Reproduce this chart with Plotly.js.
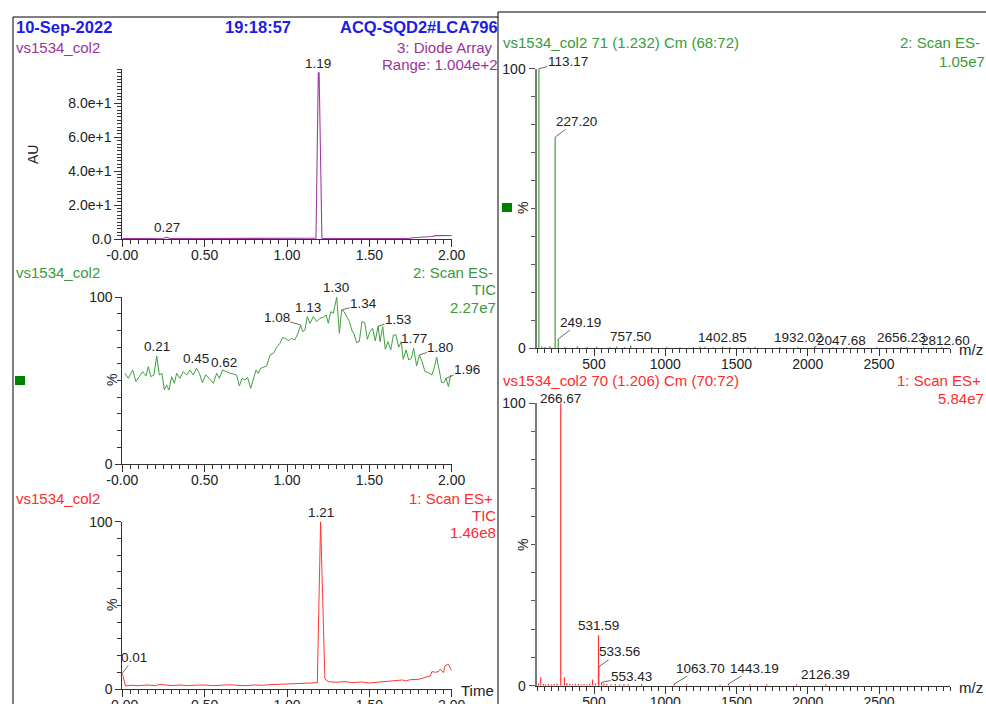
<!DOCTYPE html>
<html><head><meta charset="utf-8">
<script src="https://cdn.plot.ly/plotly-3.0.1.min.js"></script>
<style>html,body{margin:0;padding:0;background:#fff}#c{width:986px;height:704px}</style>
</head><body><div id="c"></div>
<script>
// ---------- DATA ----------
// Diode array chromatogram (AU)
const dT = [0,0.1,0.2,0.25,0.27,0.29,0.4,0.6,0.8,1.0,1.17,1.176,1.19,1.195,1.212,1.22,1.4,1.6,1.74,1.76,1.8,1.82,1.88,1.9,1.95,2.0];
const dV = [0.2,0.2,0.2,0.4,1.0,0.3,0.2,0.2,0.2,0.2,0.2,0.5,98,98,0.5,0.2,0.2,0.2,0.3,0.7,0.9,1.3,1.5,2.0,2.1,2.1];
const dLabels = [0.27, 1.19];

// Scan ES- TIC (%)
const gT = [0.016,0.036,0.063,0.083,0.103,0.123,0.144,0.158,0.174,0.192,
0.209,0.225,0.241,0.255,0.269,0.283,0.300,0.316,0.330,0.350,
0.370,0.391,0.411,0.431,0.451,0.468,0.486,0.506,0.528,0.553,
0.573,0.589,0.609,0.630,0.654,0.674,0.694,0.711,0.727,0.745,
0.761,0.779,0.796,0.812,0.826,0.840,0.856,0.877,0.897,0.917,
0.937,0.957,0.974,0.994,1.010,1.026,1.047,1.067,1.083,1.095,
1.109,1.123,1.140,1.160,1.180,1.200,1.221,1.237,1.251,1.265,
1.281,1.302,1.318,1.332,1.346,1.362,1.379,1.393,1.407,1.423,
1.439,1.455,1.472,1.488,1.504,1.520,1.536,1.553,1.565,1.581,
1.597,1.613,1.630,1.646,1.662,1.678,1.694,1.706,1.723,1.739,
1.755,1.769,1.787,1.804,1.820,1.838,1.858,1.879,1.893,1.909,
1.925,1.939,1.953,1.966,1.980,1.994];
const gV = [54.4,51.4,56.4,49.4,52.4,55.4,52.8,58.4,52.4,53.4,
64.8,53.4,54.4,44.4,47.4,44.4,52.4,48.4,54.4,51.4,
55.4,53.4,56.4,53.4,57.4,54.4,48.8,53.4,51.4,48.4,
54.4,51.4,56.4,55.4,54.4,54.0,53.4,46.8,51.4,50.4,
52.0,45.4,51.4,56.4,54.4,57.4,58.0,58.8,65.4,66.4,
70.0,72.4,75.8,75.2,73.8,75.4,74.4,78.4,83.4,79.4,
80.4,88.4,84.4,88.4,85.4,87.4,88.0,89.4,84.4,91.4,
90.4,100,78.4,92.4,91.4,88.8,85.4,80.4,78.0,72.8,
73.4,85.4,84.8,74.8,79.4,81.4,73.8,82.6,73.4,82.4,
68.8,73.4,68.4,77.4,77.4,70.0,73.4,62.8,68.4,62.4,
63.4,69.4,58.8,65.4,61.4,55.4,54.8,53.4,57.4,64.0,
55.4,48.8,48.8,51.4,46.4,53.4];
const gLabels = [0.21,0.45,0.62,1.08,1.13,1.30,1.34,1.53,1.77,1.80,1.96];

// Scan ES+ TIC (%)
const rT = [0,0.02,0.05,0.1,0.15,0.2,0.23,0.27,0.3,0.35,
0.4,0.45,0.5,0.55,0.6,0.65,0.7,0.75,0.8,0.85,
0.9,0.95,1.0,1.05,1.1,1.15,1.184,1.204,1.23,
1.25,1.3,1.35,1.4,1.45,1.5,1.55,1.6,1.65,1.7,
1.72,1.75,1.8,1.85,1.87,1.88,1.9,1.92,1.93,1.95,
1.96,1.98,2.0];
const rV = [9.4,1.8,2.2,2.0,2.4,2.0,2.8,2.1,2.0,2.4,
2.0,2.3,2.4,2.0,2.2,2.5,2.2,2.0,2.4,2.2,
2.6,2.8,3.0,3.2,3.0,3.6,3.8,100,6.0,
4.4,4.0,4.4,3.8,4.2,3.6,4.0,4.4,4.6,5.4,
4.8,5.6,5.8,7.0,7.8,10.4,10.0,10.4,11.8,9.8,
14.0,14.7,11.0];
const rLabels = [0.01, 1.21];

// Mass spectrum ES- (scan 71)
const msNegMz  = [113.17,227.20,249.19,757.50,1402.85,1932.02,2047.68,2656.23,2812.60,
135,156,191,296,383,453,519,612,659,717,905,1010,1104,1197,1244,1279,1337,1454,1583,1630,1805,2177,2273,2484,2694,2940];
const msNegInt = [100,75.5,3.3,1.0,0.6,0.5,0.5,0.5,0.6,
0.6,0.5,0.8,0.5,0.7,0.5,0.6,0.5,0.6,0.5,0.4,0.5,0.4,0.5,0.6,0.5,0.4,0.5,0.4,0.5,0.5,0.4,0.5,0.4,0.5,0.5];
const msNegLabels = ['113.17','227.20','249.19','757.50','1402.85','1932.02','2047.68','2656.23','2812.60'];

// Mass spectrum ES+ (scan 70)
const msPosMz  = [266.67,531.59,533.56,553.43,1063.70,1443.19,2126.39,126,292,490,
110,145,160,180,200,220,240,310,330,350,370,390,410,430,450,470,510,570,590,620,650,680,710,740,834,1150,1384,1595,1712,1922];
const msPosInt = [100,17.9,6.7,1.2,0.6,0.6,0.6,3.0,3.0,2.2,
0.8,0.6,0.5,0.7,0.5,0.6,0.8,1.0,0.6,0.5,0.7,0.6,0.5,0.6,0.5,0.7,0.8,0.8,0.6,0.5,0.6,0.5,0.6,0.5,0.6,0.5,0.4,0.5,0.5,0.5];
const msPosLabels = ['266.67','531.59','533.56','553.43','1063.70','1443.19','2126.39'];

const timeTicks = [0,0.5,1,1.5,2];
const timeTickText = ['-0.00','0.50','1.00','1.50','2.00'];
const auTicks = [0,20,40,60,80];
const auTickText = ['0.0','2.0e+1','4.0e+1','6.0e+1','8.0e+1'];
const mzTicks = [500,1000,1500,2000,2500];

// ---------- LAYOUT HELPERS ----------
const W = 986, H = 704;
const px = x => x / W;
const py = y => 1 - y / H;
const FONT = 'Liberation Sans, Arial, Helvetica, sans-serif';
const BLUE = '#1c1ce8', PURPLE = '#993399', GREEN = '#3a9a3a', RED = '#ff2a2a', DARK = '#222';
const LINE_PURPLE = '#a23aa2', LINE_GREEN = '#3f9f3f', LINE_RED = '#ff3535';

function sticks(mz, inten) {
  const x = [], y = [];
  mz.forEach((m, i) => { x.push(m, m, null); y.push(0, inten[i], null); });
  return {x, y};
}
function nearest(ts, vs, t) {
  let bi = 0, bd = 1e9;
  ts.forEach((v, i) => { const d = Math.abs(v - t); if (d < bd) { bd = d; bi = i; } });
  return vs[bi];
}

const traces = [];
traces.push({x: dT, y: dV, xaxis: 'x', yaxis: 'y', mode: 'lines', line: {color: LINE_PURPLE, width: 1.1}, hoverinfo: 'skip'});
traces.push({x: gT, y: gV, xaxis: 'x2', yaxis: 'y2', mode: 'lines', line: {color: LINE_GREEN, width: 1}, hoverinfo: 'skip'});
traces.push({x: rT, y: rV, xaxis: 'x3', yaxis: 'y3', mode: 'lines', line: {color: LINE_RED, width: 1}, hoverinfo: 'skip'});
const sn = sticks(msNegMz, msNegInt);
traces.push({x: sn.x, y: sn.y, xaxis: 'x4', yaxis: 'y4', mode: 'lines', line: {color: LINE_GREEN, width: 1.2}, hoverinfo: 'skip', connectgaps: false});
const sp = sticks(msPosMz, msPosInt);
traces.push({x: sp.x, y: sp.y, xaxis: 'x5', yaxis: 'y5', mode: 'lines', line: {color: LINE_RED, width: 1.2}, hoverinfo: 'skip', connectgaps: false});

const tickFont = {family: FONT, size: 14, color: DARK};
function timeAxis(anchor) {
  return {domain: [px(122.3), px(451.7)], range: [0, 2], anchor: anchor,
    showline: true, linecolor: '#333', linewidth: 1, zeroline: false, showgrid: false,
    tickmode: 'array', tickvals: timeTicks, ticktext: timeTickText,
    ticks: 'outside', ticklen: 7, tickcolor: '#333', tickfont: tickFont, ticklabelstandoff: -4,
    minor: {tickmode: 'linear', tick0: 0, dtick: 0.05, ticks: 'outside', ticklen: 4, tickcolor: '#333', showgrid: false}};
}
function pctAxis(yb, yt, anchor) {
  return {domain: [py(yb), py(yt)], range: [0, 100], anchor: anchor,
    showline: true, linecolor: '#333', linewidth: 1, zeroline: false, showgrid: false,
    tickmode: 'array', tickvals: [0, 100], ticktext: ['0', '100'],
    ticks: 'outside', ticklen: 6, tickcolor: '#333', tickfont: tickFont,
    minor: {tickmode: 'linear', tick0: 0, dtick: 10, ticks: 'outside', ticklen: 4, tickcolor: '#333', showgrid: false}};
}
function mzAxis(anchor) {
  return {domain: [px(537), px(950.25)], range: [100, 3000], anchor: anchor,
    showline: true, linecolor: '#333', linewidth: 1, zeroline: false, showgrid: false,
    tickmode: 'array', tickvals: mzTicks, ticks: 'outside', ticklen: 7, tickcolor: '#333', tickfont: tickFont, ticklabelstandoff: -4,
    minor: {tickmode: 'linear', tick0: 0, dtick: 50, ticks: 'outside', ticklen: 4, tickcolor: '#333', showgrid: false}};
}
function specYAxis(yb, yt, anchor) {
  return {domain: [py(yb), py(yt)], range: [0, 100], anchor: anchor,
    showline: true, linecolor: '#7a7a7a', linewidth: 2.5, zeroline: false, showgrid: false,
    tickmode: 'array', tickvals: [0, 100], ticktext: ['0', '100'],
    ticks: 'outside', ticklen: 6, tickcolor: '#555', tickfont: tickFont,
    minor: {tickmode: 'linear', tick0: 0, dtick: 10, ticks: 'outside', ticklen: 4, tickcolor: '#555', showgrid: false}};
}

const annotations = [];
function txt(text, x, y, o) {
  o = o || {};
  annotations.push(Object.assign({text: text, xref: 'paper', yref: 'paper', x: px(x), y: py(y),
    xanchor: o.xa || 'left', yanchor: 'middle', showarrow: false, borderpad: 0,
    font: {family: FONT, size: o.size || 15, color: o.color || DARK}}, o.extra || {}));
}
// headers
txt('<b>10-Sep-2022</b>', 15, 27, {color: BLUE, size: 16.5});
txt('<b>19:18:57</b>', 258, 27, {color: BLUE, size: 16.5, xa: 'center'});
txt('<b>ACQ-SQD2#LCA796</b>', 499, 27, {color: BLUE, size: 16.5, xa: 'right'});
txt('vs1534_col2', 15, 47, {color: PURPLE});
txt('3: Diode Array', 494, 47, {color: PURPLE, xa: 'right'});
txt('Range: 1.004e+2', 499, 65, {color: PURPLE, xa: 'right'});
txt('AU', 33, 155, {xa: 'center', size: 14, extra: {textangle: -90}});
txt('vs1534_col2', 15, 273, {color: GREEN});
txt('2: Scan ES-', 494, 273, {color: GREEN, xa: 'right'});
txt('TIC', 497, 290, {color: GREEN, xa: 'right'});
txt('2.27e7', 497, 307, {color: GREEN, xa: 'right'});
txt('%', 112, 380, {xa: 'center', size: 14, extra: {textangle: -90}});
txt('vs1534_col2', 15, 498, {color: RED});
txt('1: Scan ES+', 494, 498, {color: RED, xa: 'right'});
txt('TIC', 497, 515, {color: RED, xa: 'right'});
txt('1.46e8', 497, 532, {color: RED, xa: 'right'});
txt('%', 112, 605, {xa: 'center', size: 14, extra: {textangle: -90}});
txt('Time', 460, 690, {});
txt('vs1534_col2 71 (1.232) Cm (68:72)', 502, 43, {color: GREEN});
txt('2: Scan ES-', 981, 43, {color: GREEN, xa: 'right'});
txt('1.05e7', 986, 61, {color: GREEN, xa: 'right'});
txt('%', 523, 208, {xa: 'center', size: 14, extra: {textangle: -90}});
txt('m/z', 958, 349, {});
txt('vs1534_col2 70 (1.206) Cm (70:72)', 502, 381, {color: RED});
txt('1: Scan ES+', 982, 381, {color: RED, xa: 'right'});
txt('5.84e7', 985, 398, {color: RED, xa: 'right'});
txt('%', 523, 545, {xa: 'center', size: 14, extra: {textangle: -90}});
txt('m/z', 958, 687, {});

// peak label helper (data coords)
function peak(text, x, y, xr, yr, lead, size, shift) {
  const a = {text: text, x: x, y: y, xref: xr, yref: yr, borderpad: 0,
    font: {family: FONT, size: size, color: DARK}};
  if (lead) {
    Object.assign(a, {showarrow: true, arrowhead: 0, arrowwidth: 0.8, arrowcolor: '#444',
      ax: lead[0], ay: lead[1], standoff: 0, startstandoff: 0});
  } else {
    Object.assign(a, {showarrow: false, yanchor: 'bottom', xanchor: 'center', yshift: (shift === undefined ? 1 : shift)});
  }
  annotations.push(a);
}
// diode labels
dLabels.forEach(t => peak(t.toFixed(2), t, nearest(dT, dV, t), 'x', 'y', null, 13.5));
// ES- TIC labels: leader-line labels point at their apex, others are centred on the label time
const gLead = {'1.08': [-24, -7], '1.34': [22, -6], '1.53': [20, -7], '1.80': [21, -7], '1.96': [21, -9]};
const gApex = {'1.08': 1.083, '1.34': 1.332, '1.53': 1.553, '1.80': 1.804, '1.96': 1.966};
gLabels.forEach(t => {
  const k = t.toFixed(2);
  if (gLead[k]) {
    const tt = gApex[k];
    peak(k, tt, nearest(gT, gV, tt), 'x2', 'y2', gLead[k], 13.5);
  } else {
    peak(k, t, nearest(gT, gV, t), 'x2', 'y2', null, 13.5);
  }
});
// ES+ TIC labels
const rLead = {'0.01': [12, -16]};
rLabels.forEach(t => {
  const k = t.toFixed(2); const tt = (k === '1.21') ? 1.204 : 0;
  peak(k, tt, nearest(rT, rV, tt), 'x3', 'y3', rLead[k] || null, 13.5);
});
// spectrum labels
const negLead = {'113.17': [29, -7], '227.20': [21, -16], '249.19': [22, -17], '2047.68': [27, -6], '2812.60': [22, -6]};
msNegLabels.forEach(l => {
  const m = parseFloat(l); const i = msNegMz.indexOf(m);
  peak(l, m, msNegInt[i], 'x4', 'y4', negLead[l] || null, 13.5);
});
const posLead = {'533.56': [21, -15], '553.43': [30, -6], '1063.70': [26, -16], '1443.19': [26, -16]};
msPosLabels.forEach(l => {
  const m = parseFloat(l); const i = msPosMz.indexOf(m);
  peak(l, m, msPosInt[i], 'x5', 'y5', posLead[l] || null, 13.5, l === '266.67' ? -4 : 1);
});

const shapes = [
  {type: 'line', xref: 'paper', yref: 'paper', x0: px(13), x1: px(498), y0: py(17), y1: py(17), line: {color: '#000', width: 1}},
  {type: 'line', xref: 'paper', yref: 'paper', x0: px(13), x1: px(13), y0: py(17), y1: py(710), line: {color: '#000', width: 1}},
  {type: 'line', xref: 'paper', yref: 'paper', x0: px(498), x1: px(986), y0: py(12), y1: py(12), line: {color: '#000', width: 1}},
  {type: 'line', xref: 'paper', yref: 'paper', x0: px(498), x1: px(498), y0: py(12), y1: py(710), line: {color: '#000', width: 1}},
  {type: 'rect', xref: 'paper', yref: 'paper', x0: px(15), x1: px(25), y0: py(385), y1: py(376), fillcolor: '#008000', line: {width: 0}},
  {type: 'rect', xref: 'paper', yref: 'paper', x0: px(502), x1: px(512), y0: py(212), y1: py(203), fillcolor: '#008000', line: {width: 0}}
];

const layout = {
  width: W, height: H, margin: {l: 0, r: 0, t: 0, b: 0}, showlegend: false,
  paper_bgcolor: '#fff', plot_bgcolor: 'rgba(0,0,0,0)',
  font: {family: FONT, color: DARK},
  xaxis: timeAxis('y'),
  yaxis: Object.assign(pctAxis(239, 68.7, 'x'), {range: [0, 100.4], tickvals: auTicks, ticktext: auTickText, ticklen: 7,
    minor: {tickmode: 'linear', tick0: 0, dtick: 2, ticks: 'outside', ticklen: 4, tickcolor: '#333', showgrid: false}}),
  xaxis2: timeAxis('y2'),
  yaxis2: pctAxis(464, 297.3, 'x2'),
  xaxis3: timeAxis('y3'),
  yaxis3: pctAxis(689, 521.7, 'x3'),
  xaxis4: mzAxis('y4'),
  yaxis4: specYAxis(348.3, 68.7, 'x4'),
  xaxis5: mzAxis('y5'),
  yaxis5: specYAxis(685.7, 403.3, 'x5'),
  annotations: annotations,
  shapes: shapes
};
Plotly.newPlot('c', traces, layout, {staticPlot: true, displayModeBar: false});
</script></body></html>
